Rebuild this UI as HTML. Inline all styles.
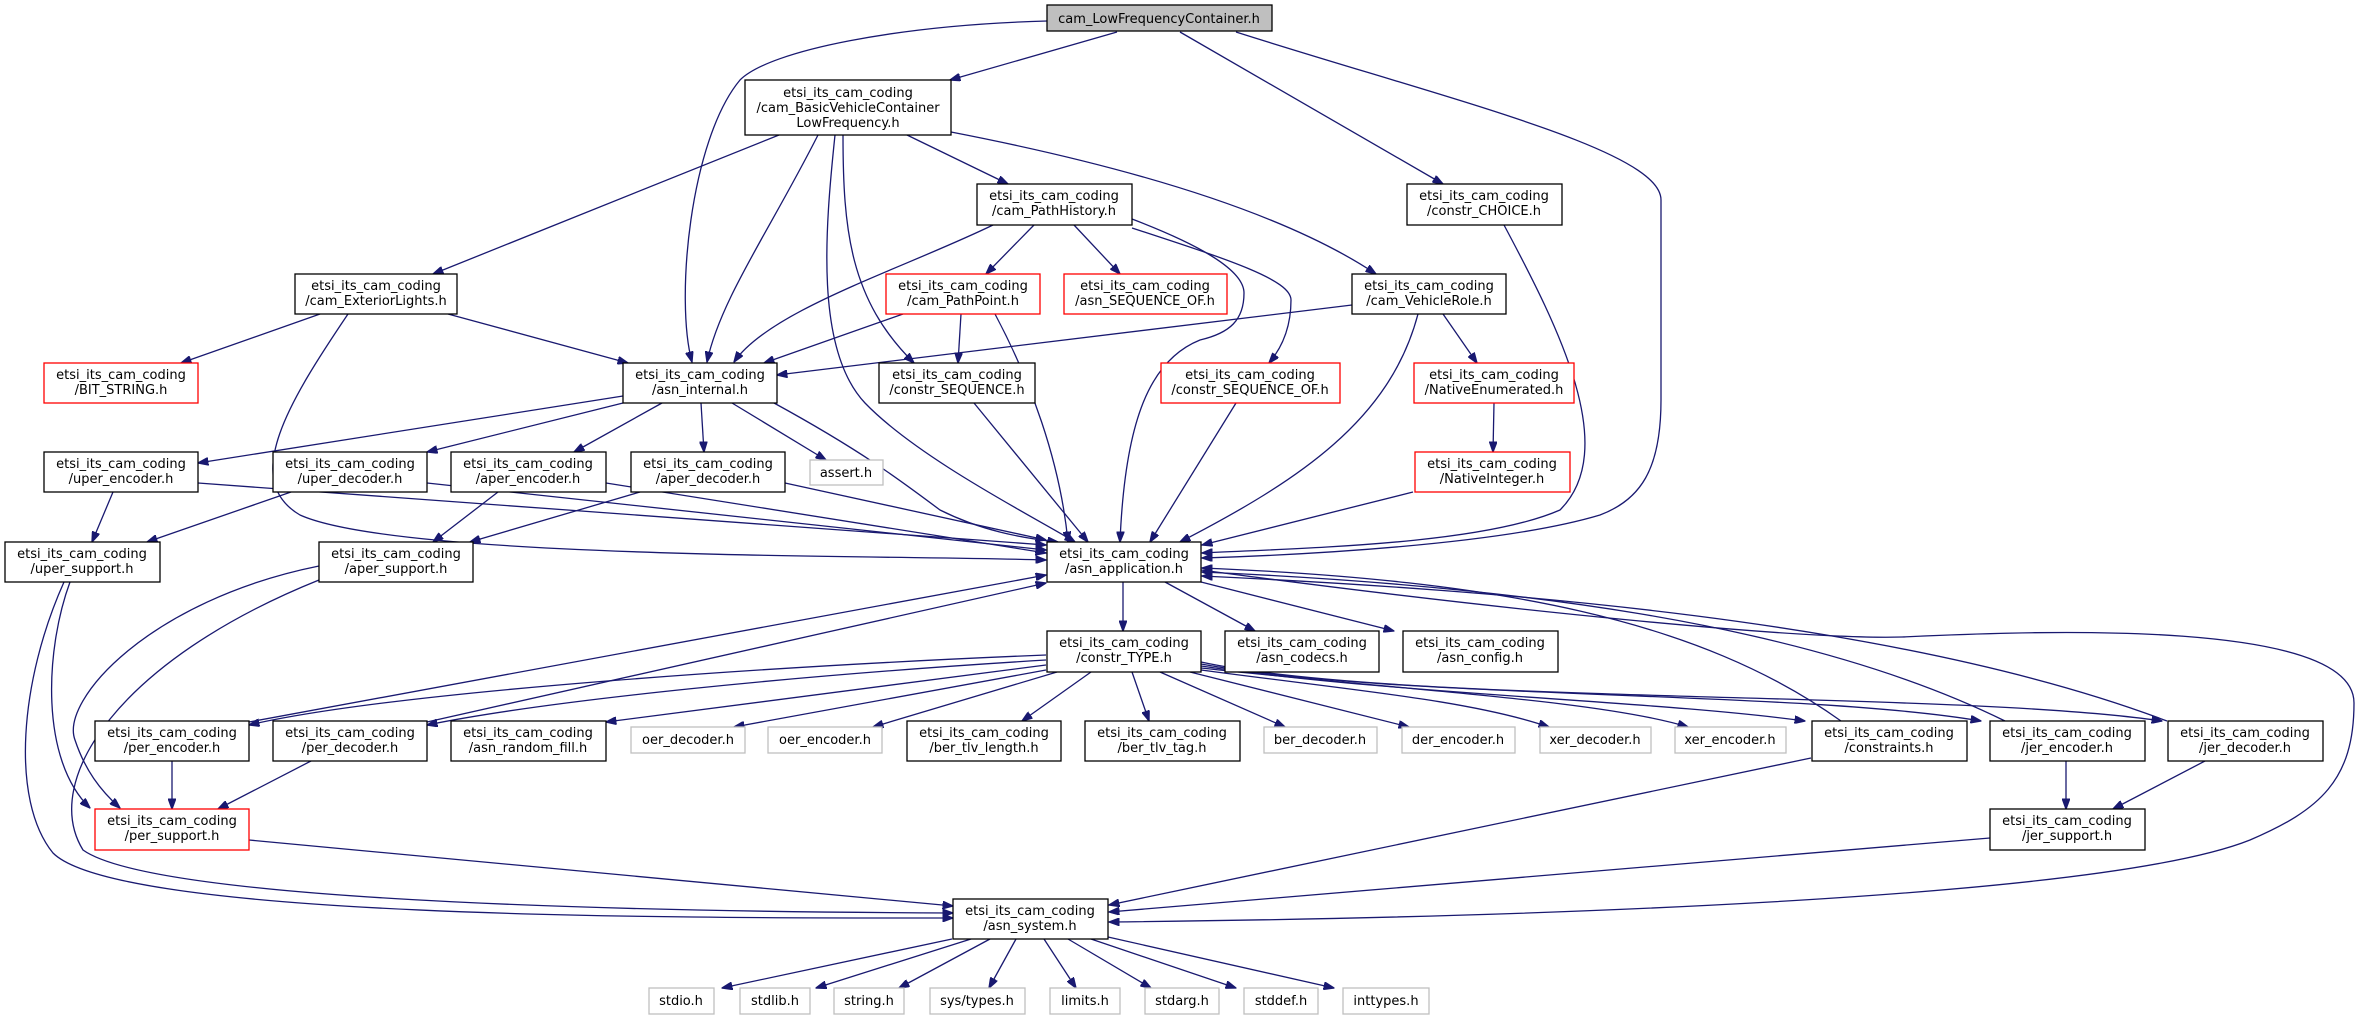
<!DOCTYPE html>
<html><head><meta charset="utf-8"><style>
html,body{margin:0;padding:0;background:#fff;}
svg{display:block;}
text{font-family:"DejaVu Sans","Liberation Sans",sans-serif;font-size:13px;fill:#000;text-anchor:middle;}
.e{fill:none;stroke:#191970;stroke-width:1.3;marker-end:url(#a);}
.n{fill:#fff;stroke:#000;stroke-width:1.3;}
.r{fill:#fff;stroke:#ff0000;stroke-width:1.3;}
.g{fill:#fff;stroke:#bfbfbf;stroke-width:1.3;}
</style></head><body>
<svg width="2362" height="1020" viewBox="0 0 2362 1020" xmlns="http://www.w3.org/2000/svg">
<defs><marker id="a" markerWidth="11" markerHeight="8" refX="10.5" refY="4" orient="auto" markerUnits="userSpaceOnUse"><path d="M0,0 L11,4 L0,8 Z" fill="#191970" stroke="#191970"/></marker></defs>

<!-- edges -->
<path class="e" d="M1047,21 C900,25 770,50 740,80 C690,140 675,300 692,362"/>
<path class="e" d="M1117,32 L950,80"/>
<path class="e" d="M1180,32 L1443,184"/>
<path class="e" d="M1236,32 C1450,100 1661,150 1661,200 L1661,400 C1661,470 1640,500 1600,515 C1500,545 1300,555 1202,558"/>
<path class="e" d="M779,135 L433,274"/>
<path class="e" d="M818,135 C770,230 720,300 707,362"/>
<path class="e" d="M835,135 C825,230 815,350 865,403 C920,460 1040,520 1075,542"/>
<path class="e" d="M843,135 C843,230 850,300 914,363"/>
<path class="e" d="M907,135 L1008,184"/>
<path class="e" d="M951,132 Q1250,190 1376,274"/>
<path class="e" d="M993,225 C900,270 770,310 734,362"/>
<path class="e" d="M1034,225 L986,274"/>
<path class="e" d="M1074,225 L1120,274"/>
<path class="e" d="M1132,219 C1200,245 1244,270 1244,293 C1244,320 1230,333 1200,340 C1150,360 1125,420 1120,542"/>
<path class="e" d="M1132,228 C1230,260 1291,280 1291,300 C1291,330 1280,350 1269,363"/>
<path class="e" d="M320,314 L181,363"/>
<path class="e" d="M448,314 L628,363"/>
<path class="e" d="M348,314 C290,400 240,480 300,515 C400,560 900,555 1046,560"/>
<path class="e" d="M903,314 L764,363"/>
<path class="e" d="M961,314 L958,363"/>
<path class="e" d="M995,314 C1030,380 1060,460 1068,542"/>
<path class="e" d="M1352,305 L777,375"/>
<path class="e" d="M1443,314 L1477,363"/>
<path class="e" d="M1418,314 C1390,420 1300,480 1180,542"/>
<path class="e" d="M1504,225 C1560,330 1620,450 1560,510 C1480,545 1300,548 1202,553"/>
<path class="e" d="M1236,403 L1150,542"/>
<path class="e" d="M1494,403 L1493,452"/>
<path class="e" d="M1413,492 L1202,545"/>
<path class="e" d="M974,403 L1088,542"/>
<path class="e" d="M623,396 L198,463"/>
<path class="e" d="M623,403 L427,452"/>
<path class="e" d="M662,403 L574,452"/>
<path class="e" d="M701,403 L704,452"/>
<path class="e" d="M732,403 L826,460"/>
<path class="e" d="M774,403 C860,450 900,480 940,510 C980,530 1020,538 1058,542"/>
<path class="e" d="M113,492 L92,542"/>
<path class="e" d="M198,483 L1046,545"/>
<path class="e" d="M291,492 L147,542"/>
<path class="e" d="M427,483 L1046,550"/>
<path class="e" d="M498,492 L433,542"/>
<path class="e" d="M606,483 L1046,553"/>
<path class="e" d="M640,492 L470,542"/>
<path class="e" d="M785,483 L1046,540"/>
<path class="e" d="M70,582 C45,650 40,760 90,808"/>
<path class="e" d="M64,582 C20,680 10,800 53,853 C120,920 700,918 953,918"/>
<path class="e" d="M319,566 C150,600 60,700 75,740 C85,770 100,790 120,808"/>
<path class="e" d="M319,580 C120,660 40,780 83,850 C160,905 700,912 953,913"/>
<path class="e" d="M1123,582 L1123,631"/>
<path class="e" d="M1165,582 L1255,631"/>
<path class="e" d="M1201,582 L1394,631"/>
<path class="e" d="M1201,570 C1500,610 1800,640 1902,637 C2050,630 2354,620 2354,703 C2354,780 2320,810 2250,840 C2100,900 1500,918 1109,922"/>
<path class="e" d="M249,722 L1046,575"/>
<path class="e" d="M427,722 L1046,583"/>
<path class="e" d="M1841,721 C1700,620 1500,580 1202,568"/>
<path class="e" d="M2005,721 C1800,620 1500,585 1202,572"/>
<path class="e" d="M2167,721 C1900,620 1500,590 1202,576"/>
<path class="e" d="M1046,655 C800,665 400,690 249,725"/>
<path class="e" d="M1046,660 C800,675 550,700 427,725"/>
<path class="e" d="M1046,665 L606,722"/>
<path class="e" d="M1046,670 L734,727"/>
<path class="e" d="M1057,672 L873,727"/>
<path class="e" d="M1091,672 L1022,721"/>
<path class="e" d="M1132,672 L1149,721"/>
<path class="e" d="M1160,672 L1285,727"/>
<path class="e" d="M1190,672 L1409,727"/>
<path class="e" d="M1201,670 C1350,690 1470,700 1549,727"/>
<path class="e" d="M1201,668 C1400,690 1600,700 1688,727"/>
<path class="e" d="M1201,666 C1400,695 1650,700 1805,721"/>
<path class="e" d="M1201,664 C1400,700 1800,690 1981,721"/>
<path class="e" d="M1201,662 C1400,705 1950,690 2162,721"/>
<path class="e" d="M172,761 L172,809"/>
<path class="e" d="M311,761 L218,809"/>
<path class="e" d="M249,840 L953,906"/>
<path class="e" d="M1811,758 L1109,905"/>
<path class="e" d="M2066,761 L2066,809"/>
<path class="e" d="M2205,761 L2113,809"/>
<path class="e" d="M1990,838 L1109,912"/>
<path class="e" d="M952,939 L722,988"/>
<path class="e" d="M971,939 L816,988"/>
<path class="e" d="M990,939 L899,988"/>
<path class="e" d="M1016,939 L989,988"/>
<path class="e" d="M1044,939 L1076,988"/>
<path class="e" d="M1068,939 L1151,988"/>
<path class="e" d="M1091,939 L1236,988"/>
<path class="e" d="M1108,937 L1334,988"/>

<!-- nodes -->
<rect x="1047" y="5" width="225" height="26" fill="#bfbfbf" stroke="#000" stroke-width="1.3"/><text x="1159" y="23">cam_LowFrequencyContainer.h</text>

<rect class="n" x="745" y="80" width="206" height="55"/><text x="848" y="97">etsi_its_cam_coding</text><text x="848" y="112">/cam_BasicVehicleContainer</text><text x="848" y="127">LowFrequency.h</text>

<rect class="n" x="977" y="184" width="155" height="41"/><text x="1054" y="200">etsi_its_cam_coding</text><text x="1054" y="215">/cam_PathHistory.h</text>
<rect class="n" x="1407" y="184" width="155" height="41"/><text x="1484" y="200">etsi_its_cam_coding</text><text x="1484" y="215">/constr_CHOICE.h</text>

<rect class="n" x="295" y="274" width="162" height="40"/><text x="376" y="290">etsi_its_cam_coding</text><text x="376" y="305">/cam_ExteriorLights.h</text>
<rect class="r" x="886" y="274" width="154" height="40"/><text x="963" y="290">etsi_its_cam_coding</text><text x="963" y="305">/cam_PathPoint.h</text>
<rect class="r" x="1064" y="274" width="163" height="40"/><text x="1145" y="290">etsi_its_cam_coding</text><text x="1145" y="305">/asn_SEQUENCE_OF.h</text>
<rect class="n" x="1352" y="274" width="154" height="40"/><text x="1429" y="290">etsi_its_cam_coding</text><text x="1429" y="305">/cam_VehicleRole.h</text>

<rect class="r" x="44" y="363" width="154" height="40"/><text x="121" y="379">etsi_its_cam_coding</text><text x="121" y="394">/BIT_STRING.h</text>
<rect class="n" x="623" y="363" width="154" height="40"/><text x="700" y="379">etsi_its_cam_coding</text><text x="700" y="394">/asn_internal.h</text>
<rect class="n" x="879" y="363" width="156" height="40"/><text x="957" y="379">etsi_its_cam_coding</text><text x="957" y="394">/constr_SEQUENCE.h</text>
<rect class="r" x="1161" y="363" width="179" height="40"/><text x="1250" y="379">etsi_its_cam_coding</text><text x="1250" y="394">/constr_SEQUENCE_OF.h</text>
<rect class="r" x="1414" y="363" width="160" height="40"/><text x="1494" y="379">etsi_its_cam_coding</text><text x="1494" y="394">/NativeEnumerated.h</text>

<rect class="n" x="44" y="452" width="154" height="40"/><text x="121" y="468">etsi_its_cam_coding</text><text x="121" y="483">/uper_encoder.h</text>
<rect class="n" x="273" y="452" width="154" height="40"/><text x="350" y="468">etsi_its_cam_coding</text><text x="350" y="483">/uper_decoder.h</text>
<rect class="n" x="451" y="452" width="155" height="40"/><text x="528" y="468">etsi_its_cam_coding</text><text x="528" y="483">/aper_encoder.h</text>
<rect class="n" x="631" y="452" width="154" height="40"/><text x="708" y="468">etsi_its_cam_coding</text><text x="708" y="483">/aper_decoder.h</text>
<rect class="g" x="810" y="460" width="73" height="25"/><text x="846" y="477">assert.h</text>
<rect class="r" x="1415" y="452" width="155" height="40"/><text x="1492" y="468">etsi_its_cam_coding</text><text x="1492" y="483">/NativeInteger.h</text>

<rect class="n" x="5" y="542" width="155" height="40"/><text x="82" y="558">etsi_its_cam_coding</text><text x="82" y="573">/uper_support.h</text>
<rect class="n" x="319" y="542" width="154" height="40"/><text x="396" y="558">etsi_its_cam_coding</text><text x="396" y="573">/aper_support.h</text>
<rect class="n" x="1047" y="542" width="154" height="40"/><text x="1124" y="558">etsi_its_cam_coding</text><text x="1124" y="573">/asn_application.h</text>

<rect class="n" x="1047" y="631" width="154" height="41"/><text x="1124" y="647">etsi_its_cam_coding</text><text x="1124" y="662">/constr_TYPE.h</text>
<rect class="n" x="1225" y="631" width="154" height="41"/><text x="1302" y="647">etsi_its_cam_coding</text><text x="1302" y="662">/asn_codecs.h</text>
<rect class="n" x="1403" y="631" width="155" height="41"/><text x="1480" y="647">etsi_its_cam_coding</text><text x="1480" y="662">/asn_config.h</text>

<rect class="n" x="95" y="721" width="154" height="40"/><text x="172" y="737">etsi_its_cam_coding</text><text x="172" y="752">/per_encoder.h</text>
<rect class="n" x="273" y="721" width="154" height="40"/><text x="350" y="737">etsi_its_cam_coding</text><text x="350" y="752">/per_decoder.h</text>
<rect class="n" x="451" y="721" width="155" height="40"/><text x="528" y="737">etsi_its_cam_coding</text><text x="528" y="752">/asn_random_fill.h</text>
<rect class="g" x="631" y="727" width="114" height="26"/><text x="688" y="744">oer_decoder.h</text>
<rect class="g" x="768" y="727" width="114" height="26"/><text x="825" y="744">oer_encoder.h</text>
<rect class="n" x="907" y="721" width="154" height="40"/><text x="984" y="737">etsi_its_cam_coding</text><text x="984" y="752">/ber_tlv_length.h</text>
<rect class="n" x="1085" y="721" width="155" height="40"/><text x="1162" y="737">etsi_its_cam_coding</text><text x="1162" y="752">/ber_tlv_tag.h</text>
<rect class="g" x="1264" y="727" width="113" height="26"/><text x="1320" y="744">ber_decoder.h</text>
<rect class="g" x="1402" y="727" width="113" height="26"/><text x="1458" y="744">der_encoder.h</text>
<rect class="g" x="1540" y="727" width="111" height="26"/><text x="1595" y="744">xer_decoder.h</text>
<rect class="g" x="1675" y="727" width="111" height="26"/><text x="1730" y="744">xer_encoder.h</text>
<rect class="n" x="1812" y="721" width="155" height="40"/><text x="1889" y="737">etsi_its_cam_coding</text><text x="1889" y="752">/constraints.h</text>
<rect class="n" x="1990" y="721" width="155" height="40"/><text x="2067" y="737">etsi_its_cam_coding</text><text x="2067" y="752">/jer_encoder.h</text>
<rect class="n" x="2168" y="721" width="155" height="40"/><text x="2245" y="737">etsi_its_cam_coding</text><text x="2245" y="752">/jer_decoder.h</text>

<rect class="r" x="95" y="809" width="154" height="41"/><text x="172" y="825">etsi_its_cam_coding</text><text x="172" y="840">/per_support.h</text>
<rect class="n" x="1990" y="809" width="155" height="41"/><text x="2067" y="825">etsi_its_cam_coding</text><text x="2067" y="840">/jer_support.h</text>

<rect class="n" x="953" y="899" width="155" height="40"/><text x="1030" y="915">etsi_its_cam_coding</text><text x="1030" y="930">/asn_system.h</text>

<rect class="g" x="649" y="988" width="65" height="26"/><text x="681" y="1005">stdio.h</text>
<rect class="g" x="740" y="988" width="70" height="26"/><text x="775" y="1005">stdlib.h</text>
<rect class="g" x="834" y="988" width="70" height="26"/><text x="869" y="1005">string.h</text>
<rect class="g" x="930" y="988" width="95" height="26"/><text x="977" y="1005">sys/types.h</text>
<rect class="g" x="1050" y="988" width="70" height="26"/><text x="1085" y="1005">limits.h</text>
<rect class="g" x="1145" y="988" width="74" height="26"/><text x="1182" y="1005">stdarg.h</text>
<rect class="g" x="1244" y="988" width="74" height="26"/><text x="1281" y="1005">stddef.h</text>
<rect class="g" x="1343" y="988" width="86" height="26"/><text x="1386" y="1005">inttypes.h</text>
</svg>
</body></html>
